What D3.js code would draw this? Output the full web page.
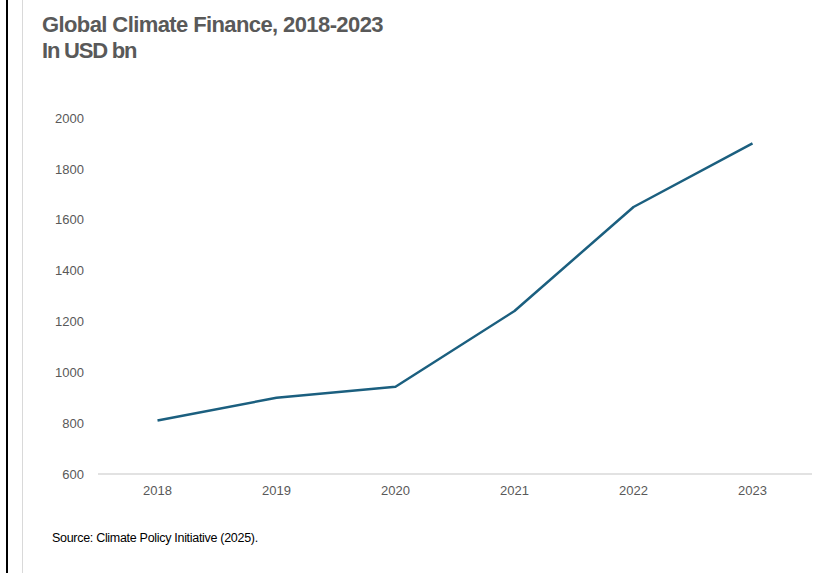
<!DOCTYPE html>
<html>
<head>
<meta charset="utf-8">
<script src="https://cdn.jsdelivr.net/npm/d3@7"></script>
<style>
  html, body { margin: 0; padding: 0; background: #fff; }
  svg { display: block; }
</style>
</head>
<body>
<svg id="chart" width="828" height="573"></svg>
<script>
const years = ["2018", "2019", "2020", "2021", "2022", "2023"];
const finance = [810, 900, 943, 1241, 1650, 1900];
const yTicks = [600, 800, 1000, 1200, 1400, 1600, 1800, 2000];
const titleLines = ["Global Climate Finance, 2018-2023", "In USD bn"];
const sourceText = "Source: Climate Policy Initiative (2025).";

const svg = d3.select("#chart");
const W = 828, H = 573;
const margin = { left: 98, right: 16, top: 118, bottom: 99 };
const plotRight = W - margin.right;
const plotBottom = H - margin.bottom;

// frame lines at left
svg.append("line").attr("x1", 7).attr("x2", 7).attr("y1", 0).attr("y2", H)
  .attr("stroke", "#000").attr("stroke-width", 2);
svg.append("line").attr("x1", 22.5).attr("x2", 22.5).attr("y1", 0).attr("y2", H)
  .attr("stroke", "#d9d9d9").attr("stroke-width", 1);

const x = d3.scaleBand().domain(years).range([margin.left, plotRight]);
const y = d3.scaleLinear().domain([600, 2000]).range([plotBottom, margin.top]);

// title
const title = svg.append("text").attr("x", 42).attr("y", 32)
  .attr("font-family", "Liberation Sans, Arial, sans-serif")
  .attr("font-weight", "bold").attr("font-size", 22)
  .attr("letter-spacing", "-0.6").attr("fill", "#595959");
titleLines.forEach((t, i) => {
  title.append("tspan").attr("x", 42).attr("dy", i === 0 ? 0 : 26)
    .attr("letter-spacing", i === 0 ? "-0.6" : "-1.2").text(t);
});

// y axis labels
const yAxis = d3.axisLeft(y).tickValues(yTicks).tickFormat(d3.format("d")).tickSize(0).tickPadding(14);
const gy = svg.append("g").attr("transform", `translate(${margin.left},0)`).call(yAxis);
gy.select(".domain").remove();
gy.selectAll("text").attr("font-family", "Liberation Sans, Arial, sans-serif")
  .attr("font-size", 13).attr("fill", "#595959").attr("text-anchor", "end");

// x axis
const xAxis = d3.axisBottom(x).tickSize(0).tickPadding(12);
const gx = svg.append("g").attr("transform", `translate(0,${plotBottom})`).call(xAxis);
gx.select(".domain").attr("stroke", "#d9d9d9").attr("stroke-width", 1.3)
  .attr("d", `M${margin.left},0H${plotRight}`);
gx.selectAll("text").attr("font-family", "Liberation Sans, Arial, sans-serif")
  .attr("font-size", 13).attr("fill", "#595959");

// line
const line = d3.line()
  .x((d, i) => x(years[i]) + x.bandwidth() / 2)
  .y(d => y(d));
svg.append("path").datum(finance).attr("d", line)
  .attr("fill", "none").attr("stroke", "#1b5f7f").attr("stroke-width", 2.5)
  .attr("stroke-linejoin", "round");

// source
svg.append("text").attr("x", 52).attr("y", 542)
  .attr("font-family", "Liberation Sans, Arial, sans-serif")
  .attr("font-size", 12.5).attr("letter-spacing", "-0.3").attr("fill", "#000")
  .text(sourceText);
</script>
</body>
</html>
